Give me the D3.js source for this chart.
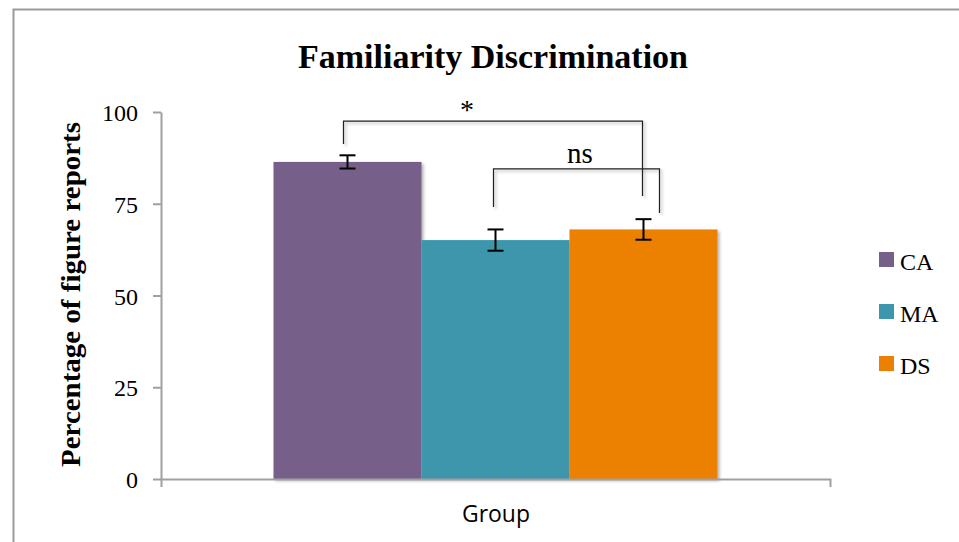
<!DOCTYPE html>
<html>
<head>
<meta charset="utf-8">
<script src="https://cdn.jsdelivr.net/npm/d3@7"></script>
<style>
  html, body { margin: 0; padding: 0; background: #fff; }
  svg { display: block; }
</style>
</head>
<body>
<svg id="chart" width="959" height="542"></svg>
<script>
// Groups shown as bars, their mean percentages and standard errors
const groups = ["CA", "MA", "DS"];
const means = [86.4, 65.1, 68.0];
const errors = [1.8, 2.9, 2.8];
const colors = ["#76608a", "#3c96ac", "#ec8005"];
const category = ["Group"];
const yTicks = [0, 25, 50, 75, 100];

// Significance comparisons: pair of groups, label, bracket height and leg ends (percent)
const compFrom = ["CA", "MA"];
const compTo = ["DS", "DS"];
const compLabels = ["*", "ns"];
const compTop = [97.5, 84.5];
const compLegFrom = [91.3, 74.1];
const compLegTo = [77.1, 72.5];

const svg = d3.select("#chart");
const serif = "'Liberation Serif', 'Times New Roman', serif";

// Drop shadow used under bars and axes
const defs = svg.append("defs");
const shadow = defs.append("filter").attr("id", "shadow")
  .attr("x", "-10%").attr("y", "-10%").attr("width", "130%").attr("height", "130%");
shadow.append("feDropShadow").attr("dx", 2).attr("dy", 2)
  .attr("stdDeviation", 1.6).attr("flood-color", "#000").attr("flood-opacity", 0.3);

// Outer frame
svg.append("path")
  .attr("d", "M13.5,542V9.5H959")
  .attr("fill", "none").attr("stroke", "#9a9a9a").attr("stroke-width", 2);

// Scales
const y = d3.scaleLinear().domain([0, 100]).range([479, 112]);
const x0 = d3.scaleBand().domain(category).range([161, 830])
  .paddingInner(0).paddingOuter(0.2534);
const x1 = d3.scaleBand().domain(groups).range([0, x0.bandwidth()]).padding(0);
const cx = g => x0("Group") + x1(g) + x1.bandwidth() / 2;

// Title
svg.append("text")
  .attr("x", 493).attr("y", 68)
  .attr("text-anchor", "middle")
  .attr("font-family", serif).attr("font-weight", "bold").attr("font-size", 34)
  .text("Familiarity Discrimination");

// Bars
const data = groups.map((g, i) => ({ g, v: means[i], e: errors[i], c: colors[i] }));
svg.append("g").attr("filter", "url(#shadow)")
  .selectAll("rect").data(data).join("rect")
  .attr("x", d => x0("Group") + x1(d.g))
  .attr("width", x1.bandwidth())
  .attr("y", d => y(d.v))
  .attr("height", d => y(0) - y(d.v))
  .attr("fill", d => d.c);

// Axes
const yAxis = svg.append("g")
  .attr("transform", "translate(161,0)")
  .call(d3.axisLeft(y).tickValues(yTicks).tickSize(8).tickSizeOuter(0).tickPadding(15));
yAxis.select(".domain").attr("stroke", "#a0a0a0").attr("stroke-width", 2);
yAxis.selectAll(".tick line").attr("stroke", "#a0a0a0").attr("stroke-width", 2);
yAxis.selectAll(".tick text")
  .attr("font-family", serif).attr("font-size", 24).attr("fill", "#000")
  .attr("dy", "0.36em");

const xAxis = svg.append("g")
  .attr("transform", "translate(0,479)")
  .call(d3.axisBottom(x0).tickSizeInner(0).tickSizeOuter(8).tickFormat(""));
xAxis.select(".domain").attr("stroke", "#a0a0a0").attr("stroke-width", 2);
xAxis.selectAll(".tick line").remove();

// Error bars
const eb = svg.append("g").attr("stroke", "#000").attr("stroke-width", 2);
data.forEach(d => {
  const c = cx(d.g);
  eb.append("line").attr("x1", c).attr("x2", c).attr("y1", y(d.v + d.e)).attr("y2", y(d.v - d.e));
  eb.append("line").attr("x1", c - 8).attr("x2", c + 8).attr("y1", y(d.v + d.e)).attr("y2", y(d.v + d.e));
  eb.append("line").attr("x1", c - 8).attr("x2", c + 8).attr("y1", y(d.v - d.e)).attr("y2", y(d.v - d.e));
});

// Significance brackets
const br = svg.append("g").attr("filter", "url(#shadow)");
const brOffsets = [[-4, -1], [-2, 16]];
const labelX = [467, 580];
const labelY = [119, 163];
compFrom.forEach((g, i) => {
  const xa = cx(g) + brOffsets[i][0];
  const xb = cx(compTo[i]) + brOffsets[i][1];
  br.append("path")
    .attr("d", `M${xa},${y(compLegFrom[i])}V${y(compTop[i])}H${xb}V${y(compLegTo[i])}`)
    .attr("fill", "none").attr("stroke", "#222").attr("stroke-width", 1.2);
  svg.append("text")
    .attr("x", labelX[i]).attr("y", labelY[i])
    .attr("text-anchor", "middle")
    .attr("font-family", serif).attr("font-size", compLabels[i] === "*" ? 28 : 29)
    .text(compLabels[i]);
});

// Axis titles
svg.append("text")
  .attr("transform", "translate(80,294.5) rotate(-90)")
  .attr("text-anchor", "middle")
  .attr("font-family", serif).attr("font-weight", "bold").attr("font-size", 27)
  .attr("textLength", 345).attr("lengthAdjust", "spacingAndGlyphs")
  .text("Percentage of figure reports");

svg.append("text")
  .attr("x", 496).attr("y", 522)
  .attr("text-anchor", "middle")
  .attr("font-family", "'Liberation Sans Narrow', 'Open Sans', sans-serif").attr("font-size", 24)
  .attr("textLength", 68).attr("lengthAdjust", "spacingAndGlyphs")
  .text("Group");

// Legend
const legend = svg.append("g");
data.forEach((d, i) => {
  const ly = 252 + i * 52;
  legend.append("rect").attr("x", 879).attr("y", ly).attr("width", 15).attr("height", 15).attr("fill", d.c);
  legend.append("text").attr("x", 900).attr("y", ly + 18)
    .attr("font-family", serif).attr("font-size", 24).text(d.g);
});
</script>
</body>
</html>
